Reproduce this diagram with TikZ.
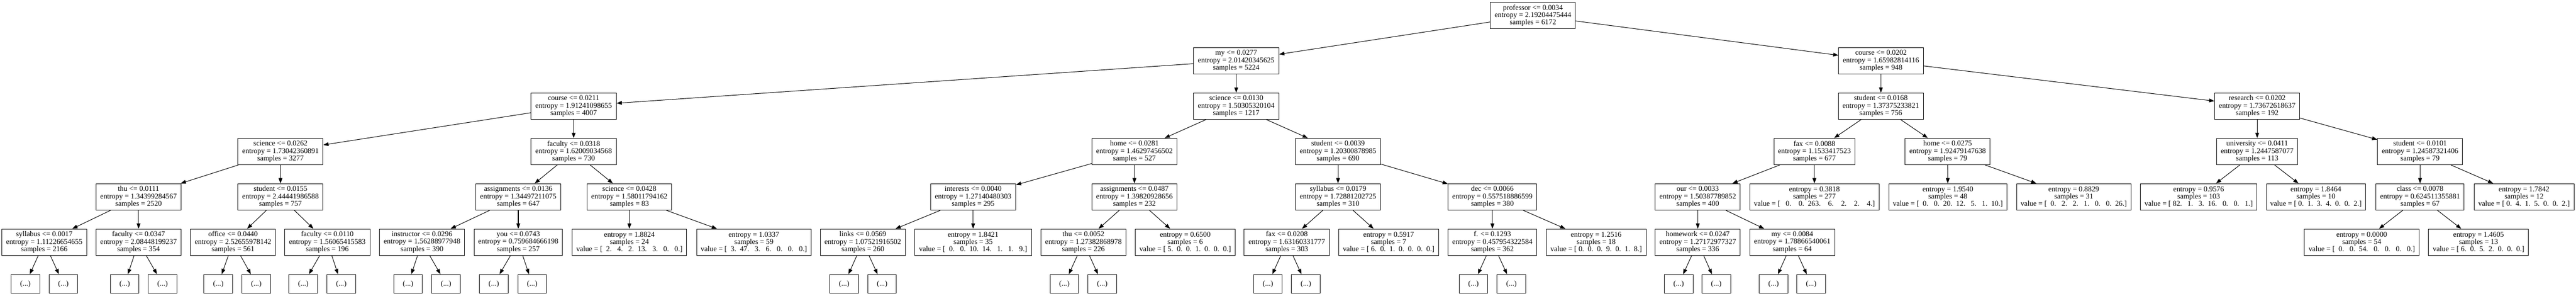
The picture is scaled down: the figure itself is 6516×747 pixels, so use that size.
\documentclass[tikz,border=0pt]{standalone}
\usepackage{fontspec}
\setmainfont{Liberation Serif}
\usetikzlibrary{arrows.meta}
\newcommand\treefont{\fontsize{18.67pt}{18.67pt}\selectfont}
\begin{document}
\begin{tikzpicture}[x=1pt,y=-1pt,
  tn/.style={draw, line width=1.33pt, inner sep=0pt, minimum height=66.7pt, align=center, font=\treefont},
  dn/.style={draw, line width=1.33pt, inner sep=0pt, minimum width=72.5pt, minimum height=47.7pt, font=\treefont},
  ed/.style={line width=1.33pt, -{Triangle[length=13.3pt,width=9.5pt]}}]
\fill[white] (0,0) rectangle (6516,747);
\useasboundingbox (0,0) rectangle (6516,747);
% level 0
\node[tn,minimum width=215pt] (root) at (3877.5,39.05) {professor <= 0.0034\\entropy = 2.19204475444\\samples = 6172};
% level 1
\node[tn,minimum width=216pt] (my1) at (3127,153.67) {my <= 0.0277\\entropy = 2.01420345625\\samples = 5224};
\node[tn,minimum width=214pt] (crs2) at (4758,153.67) {course <= 0.0202\\entropy = 1.65982814116\\samples = 948};
% level 2
\node[tn,minimum width=216pt] (crs1) at (1451,268.29) {course <= 0.0211\\entropy = 1.91241098655\\samples = 4007};
\node[tn,minimum width=216pt] (sci1) at (3127,268.29) {science <= 0.0130\\entropy = 1.50305320104\\samples = 1217};
\node[tn,minimum width=215pt] (stu1) at (4757.5,268.29) {student <= 0.0168\\entropy = 1.37375233821\\samples = 756};
\node[tn,minimum width=215pt] (res) at (5709.5,268.29) {research <= 0.0202\\entropy = 1.73672618637\\samples = 192};
% level 3
\node[tn,minimum width=215pt] (sci2) at (709.5,382.91) {science <= 0.0262\\entropy = 1.73042360891\\samples = 3277};
\node[tn,minimum width=216pt] (fac1) at (1451,382.91) {faculty <= 0.0318\\entropy = 1.62009034568\\samples = 730};
\node[tn,minimum width=215pt] (home1) at (2869.5,382.91) {home <= 0.0281\\entropy = 1.46297456502\\samples = 527};
\node[tn,minimum width=215pt] (stu2) at (3384.5,382.91) {student <= 0.0039\\entropy = 1.20300878985\\samples = 690};
\node[tn,minimum width=205pt] (fax1) at (4589.5,382.91) {fax <= 0.0088\\entropy = 1.1533417523\\samples = 677};
\node[tn,minimum width=215pt] (home2) at (4926.5,382.91) {home <= 0.0275\\entropy = 1.92479147638\\samples = 79};
\node[tn,minimum width=205pt] (univ) at (5709.5,382.91) {university <= 0.0411\\entropy = 1.2447587077\\samples = 113};
\node[tn,minimum width=215pt] (stu3) at (6121.5,382.91) {student <= 0.0101\\entropy = 1.24587321406\\samples = 79};
% level 4
\node[tn,minimum width=215pt] (thu1) at (350.5,497.53) {thu <= 0.0111\\entropy = 1.34399284567\\samples = 2520};
\node[tn,minimum width=215pt] (stu4) at (709.5,497.53) {student <= 0.0155\\entropy = 2.44441986588\\samples = 757};
\node[tn,minimum width=214pt] (asg1) at (1311,497.53) {assignments <= 0.0136\\entropy = 1.34497211075\\samples = 647};
\node[tn,minimum width=214pt] (sci3) at (1592,497.53) {science <= 0.0428\\entropy = 1.58011794162\\samples = 83};
\node[tn,minimum width=215pt] (int) at (2461.5,497.53) {interests <= 0.0040\\entropy = 1.27140480303\\samples = 295};
\node[tn,minimum width=215pt] (asg2) at (2869.5,497.53) {assignments <= 0.0487\\entropy = 1.39820928656\\samples = 232};
\node[tn,minimum width=215pt] (syl2) at (3384.5,497.53) {syllabus <= 0.0179\\entropy = 1.72881202725\\samples = 310};
\node[tn,minimum width=224pt] (dec) at (3775,497.53) {dec <= 0.0066\\entropy = 0.557518886599\\samples = 380};
\node[tn,minimum width=215pt] (our) at (4294.5,497.53) {our <= 0.0033\\entropy = 1.50387789852\\samples = 400};
\node[tn,minimum width=327pt] (lfa) at (4589.5,497.53) {entropy = 0.3818\\samples = 277\\value = [~~~0.~~~~0.~~263.~~~~6.~~~~2.~~~~2.~~~~4.]};
\node[tn,minimum width=299pt] (lfb) at (4927,497.53) {entropy = 1.9540\\samples = 48\\value = [~~0.~~~0.~~20.~~12.~~~5.~~~1.~~10.]};
\node[tn,minimum width=289pt] (lfc) at (5245.5,497.53) {entropy = 0.8829\\samples = 31\\value = [~~0.~~~2.~~~2.~~~1.~~~0.~~~0.~~26.]};
\node[tn,minimum width=295pt] (lfd) at (5561.5,497.53) {entropy = 0.9576\\samples = 103\\value = [~82.~~~1.~~~3.~~16.~~~0.~~~0.~~~1.]};
\node[tn,minimum width=250pt] (lfe) at (5858,497.53) {entropy = 1.8464\\samples = 10\\value = [~0.~~1.~~3.~~4.~~0.~~0.~~2.]};
\node[tn,minimum width=223pt] (cls) at (6121.5,497.53) {class <= 0.0078\\entropy = 0.624511355881\\samples = 67};
\node[tn,minimum width=253pt] (lff) at (6384.5,497.53) {entropy = 1.7842\\samples = 12\\value = [~0.~~4.~~1.~~5.~~0.~~0.~~2.]};
% level 5
\node[tn,minimum width=214pt] (syl1) at (112,612.15) {syllabus <= 0.0017\\entropy = 1.11226654655\\samples = 2166};
\node[tn,minimum width=215pt] (fac2) at (350.5,612.15) {faculty <= 0.0347\\entropy = 2.08448199237\\samples = 354};
\node[tn,minimum width=215pt] (off) at (589.5,612.15) {office <= 0.0440\\entropy = 2.52655978142\\samples = 561};
\node[tn,minimum width=216pt] (fac3) at (828,612.15) {faculty <= 0.0110\\entropy = 1.56065415583\\samples = 196};
\node[tn,minimum width=215pt] (ins) at (1067.5,612.15) {instructor <= 0.0296\\entropy = 1.56288977948\\samples = 390};
\node[tn,minimum width=224pt] (you) at (1311,612.15) {you <= 0.0743\\entropy = 0.759684666198\\samples = 257};
\node[tn,minimum width=290pt] (lfg) at (1592,612.15) {entropy = 1.8824\\samples = 24\\value = [~~2.~~~4.~~~2.~~13.~~~3.~~~0.~~~0.]};
\node[tn,minimum width=290pt] (lfh) at (1907,612.15) {entropy = 1.0337\\samples = 59\\value = [~~3.~~47.~~~3.~~~6.~~~0.~~~0.~~~0.]};
\node[tn,minimum width=215pt] (links) at (2182.5,612.15) {links <= 0.0569\\entropy = 1.07521916502\\samples = 260};
\node[tn,minimum width=295pt] (lfi) at (2461.5,612.15) {entropy = 1.8421\\samples = 35\\value = [~~0.~~~0.~~10.~~14.~~~1.~~~1.~~~9.]};
\node[tn,minimum width=215pt] (thu2) at (2740.5,612.15) {thu <= 0.0052\\entropy = 1.27382868978\\samples = 226};
\node[tn,minimum width=252pt] (lfj) at (2998,612.15) {entropy = 0.6500\\samples = 6\\value = [~5.~~0.~~0.~~1.~~0.~~0.~~0.]};
\node[tn,minimum width=216pt] (fax2) at (3255,612.15) {fax <= 0.0208\\entropy = 1.63160331777\\samples = 303};
\node[tn,minimum width=253pt] (lfk) at (3512.5,612.15) {entropy = 0.5917\\samples = 7\\value = [~6.~~0.~~1.~~0.~~0.~~0.~~0.]};
\node[tn,minimum width=224pt] (fdot) at (3775,612.15) {f. <= 0.1293\\entropy = 0.457954322584\\samples = 362};
\node[tn,minimum width=253pt] (lfl) at (4037.5,612.15) {entropy = 1.2516\\samples = 18\\value = [~0.~~0.~~0.~~9.~~0.~~1.~~8.]};
\node[tn,minimum width=215pt] (hw) at (4294.5,612.15) {homework <= 0.0247\\entropy = 1.27172977327\\samples = 336};
\node[tn,minimum width=215pt] (my2) at (4533.5,612.15) {my <= 0.0084\\entropy = 1.78866540061\\samples = 64};
\node[tn,minimum width=290pt] (lfm) at (5974,612.15) {entropy = 0.0000\\samples = 54\\value = [~~0.~~~0.~~54.~~~0.~~~0.~~~0.~~~0.]};
\node[tn,minimum width=253pt] (lfn) at (6269.5,612.15) {entropy = 1.4605\\samples = 13\\value = [~6.~~0.~~5.~~2.~~0.~~0.~~0.]};
% edges
\draw[ed] (root) -- (my1);
\draw[ed] (root) -- (crs2);
\draw[ed] (my1) -- (crs1);
\draw[ed] (my1) -- (sci1);
\draw[ed] (crs2) -- (stu1);
\draw[ed] (crs2) -- (res);
\draw[ed] (crs1) -- (sci2);
\draw[ed] (crs1) -- (fac1);
\draw[ed] (sci1) -- (home1);
\draw[ed] (sci1) -- (stu2);
\draw[ed] (stu1) -- (fax1);
\draw[ed] (stu1) -- (home2);
\draw[ed] (res) -- (univ);
\draw[ed] (res) -- (stu3);
\draw[ed] (sci2) -- (thu1);
\draw[ed] (sci2) -- (stu4);
\draw[ed] (fac1) -- (asg1);
\draw[ed] (fac1) -- (sci3);
\draw[ed] (home1) -- (int);
\draw[ed] (home1) -- (asg2);
\draw[ed] (stu2) -- (syl2);
\draw[ed] (stu2) -- (dec);
\draw[ed] (fax1) -- (our);
\draw[ed] (fax1) -- (lfa);
\draw[ed] (home2) -- (lfb);
\draw[ed] (home2) -- (lfc);
\draw[ed] (univ) -- (lfd);
\draw[ed] (univ) -- (lfe);
\draw[ed] (stu3) -- (cls);
\draw[ed] (stu3) -- (lff);
\draw[ed] (thu1) -- (syl1);
\draw[ed] (thu1) -- (fac2);
\draw[ed] (stu4) -- (off);
\draw[ed] (stu4) -- (fac3);
\draw[ed] (asg1) -- (ins);
\draw[ed] (asg1) -- (you);
\draw[ed] (sci3) -- (lfg);
\draw[ed] (sci3) -- (lfh);
\draw[ed] (int) -- (links);
\draw[ed] (int) -- (lfi);
\draw[ed] (asg2) -- (thu2);
\draw[ed] (asg2) -- (lfj);
\draw[ed] (syl2) -- (fax2);
\draw[ed] (syl2) -- (lfk);
\draw[ed] (dec) -- (fdot);
\draw[ed] (dec) -- (lfl);
\draw[ed] (our) -- (hw);
\draw[ed] (our) -- (my2);
\draw[ed] (cls) -- (lfm);
\draw[ed] (cls) -- (lfn);
% level 6: truncated subtrees
\foreach \p/\a/\b in {syl1/64.25/160.25, fac2/315.25/411.25, off/552.25/648.25,
  fac3/767.25/863.25, ins/1032.25/1128.25, you/1249.25/1346.25,
  links/2135.25/2231.25, thu2/2692.25/2788.25, fax2/3207.25/3303.25,
  fdot/3727.25/3823.25, hw/4246.25/4341.25, my2/4486.25/4581.25}{
  \node[dn] (\p-l) at (\a,717.6) {(...)};
  \node[dn] (\p-r) at (\b,717.6) {(...)};
  \draw[ed] (\p) -- (\p-l);
  \draw[ed] (\p) -- (\p-r);
}
\end{tikzpicture}
\end{document}
